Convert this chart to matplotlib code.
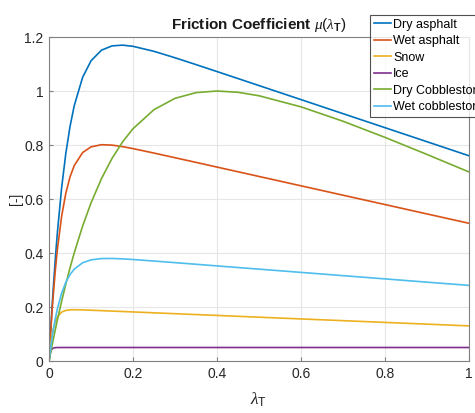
import matplotlib
matplotlib.use("Agg")
import matplotlib.pyplot as plt

plt.rcParams['font.family'] = ['Liberation Sans', 'DejaVu Sans']
plt.rcParams['mathtext.fontset'] = 'custom'
plt.rcParams['mathtext.rm'] = 'Liberation Sans'
plt.rcParams['mathtext.it'] = 'Liberation Serif:italic'
plt.rcParams['mathtext.bf'] = 'Liberation Sans:bold'

# slip values (lambda_T)
slip = [0, 0.0025, 0.005, 0.0075, 0.01, 0.015, 0.02, 0.03, 0.04, 0.05, 0.06, 0.08,
        0.1, 0.125, 0.15, 0.175, 0.2, 0.25, 0.3, 0.35, 0.4, 0.45, 0.5, 0.6, 0.7, 0.8, 0.9, 1.0]

dry_asphalt = [0, 0.0732, 0.1421, 0.2069, 0.2678, 0.3791, 0.4774, 0.6412, 0.7689, 0.8684, 0.9454, 1.0507,
               1.1119, 1.1513, 1.1671, 1.1699, 1.1655, 1.1469, 1.1231, 1.0978, 1.0720, 1.0461, 1.0201,
               0.9681, 0.9161, 0.8641, 0.8121, 0.7601]
wet_asphalt = [0, 0.0686, 0.1316, 0.1894, 0.2425, 0.3358, 0.4143, 0.5359, 0.6216, 0.6817, 0.7236, 0.7720,
               0.7932, 0.8011, 0.7996, 0.7940, 0.7866, 0.7701, 0.7529, 0.7356, 0.7182, 0.7009, 0.6835,
               0.6488, 0.6141, 0.5794, 0.5447, 0.5100]
snow = [0, 0.0407, 0.0727, 0.0981, 0.1180, 0.1462, 0.1637, 0.1811, 0.1875, 0.1896, 0.1900, 0.1893,
        0.1881, 0.1865, 0.1849, 0.1833, 0.1817, 0.1785, 0.1752, 0.1720, 0.1688, 0.1655, 0.1623,
        0.1558, 0.1494, 0.1429, 0.1365, 0.1300]
ice = [0, 0.0268, 0.0392, 0.0450, 0.0477, 0.0495, 0.0499, 0.0500, 0.0500, 0.0500, 0.0500, 0.0500,
       0.0500, 0.0500, 0.0500, 0.0500, 0.0500, 0.0500, 0.0500, 0.0500, 0.0500, 0.0500, 0.0500,
       0.0500, 0.0500, 0.0500, 0.0500, 0.0500]
dry_cobble = [0, 0.0201, 0.0402, 0.0598, 0.0790, 0.1165, 0.1527, 0.2214, 0.2853, 0.3448, 0.4003, 0.4997,
              0.5854, 0.6758, 0.7503, 0.8112, 0.8605, 0.9310, 0.9729, 0.9940, 1.0000, 0.9952, 0.9824,
              0.9413, 0.8880, 0.8282, 0.7650, 0.7001]
wet_cobble = [0, 0.0321, 0.0615, 0.0885, 0.1134, 0.1571, 0.1940, 0.2511, 0.2916, 0.3202, 0.3402, 0.3638,
              0.3746, 0.3794, 0.3798, 0.3782, 0.3759, 0.3702, 0.3643, 0.3583, 0.3522, 0.3462, 0.3402,
              0.3282, 0.3161, 0.3041, 0.2920, 0.2800]

labels = ["Dry asphalt", "Wet asphalt", "Snow", "Ice", "Dry Cobblestone", "Wet cobblestone"]
colors = ["#0072BD", "#D95319", "#EDB120", "#7E2F8E", "#77AC30", "#4DBEEE"]
series = [dry_asphalt, wet_asphalt, snow, ice, dry_cobble, wet_cobble]

xticks = [0, 0.2, 0.4, 0.6, 0.8, 1]
xticklabels = ["0", "0.2", "0.4", "0.6", "0.8", "1"]
yticks = [0, 0.2, 0.4, 0.6, 0.8, 1, 1.2]
yticklabels = ["0", "0.2", "0.4", "0.6", "0.8", "1", "1.2"]

fig = plt.figure(figsize=(4.75, 4.13), dpi=100)
ax = fig.add_axes([0.1032, 0.1259, 0.8842, 0.7845])

for y, lab, c in zip(series, labels, colors):
    ax.plot(slip, y, color=c, lw=1.2, label=lab)

ax.set_xlim(0, 1)
ax.set_ylim(0, 1.2)
ax.set_xticks(xticks)
ax.set_xticklabels(xticklabels)
ax.set_yticks(yticks)
ax.set_yticklabels(yticklabels)
ax.grid(True, color="#e6e6e6", lw=0.8)
ax.set_axisbelow(True)
for s in ax.spines.values():
    s.set_color("#808080")
    s.set_linewidth(0.8)
ax.tick_params(direction="in", length=3, color="#808080", labelcolor="#262626", labelsize=10, pad=4)

ax.set_title(r"Friction Coefficient $\mathit{\mu}(\lambda_\mathbf{T})$", fontsize=11, fontweight="bold",
             color="#1a1a1a", pad=6)
ax.set_xlabel(r"$\lambda_\mathrm{T}$", fontsize=12.5, color="#262626", labelpad=7)
ax.set_ylabel("[-]", fontsize=10, color="#262626", labelpad=1)

leg = fig.legend(loc="upper left", bbox_to_anchor=(370 / 475, 1 - 15 / 413), fontsize=9,
                 frameon=True, fancybox=False, handlelength=1.4, handletextpad=0.15,
                 borderpad=0.3, labelspacing=0.36, borderaxespad=0)
leg.get_frame().set_edgecolor("#262626")
leg.get_frame().set_linewidth(0.8)

fig.savefig("out.png", dpi=100)
